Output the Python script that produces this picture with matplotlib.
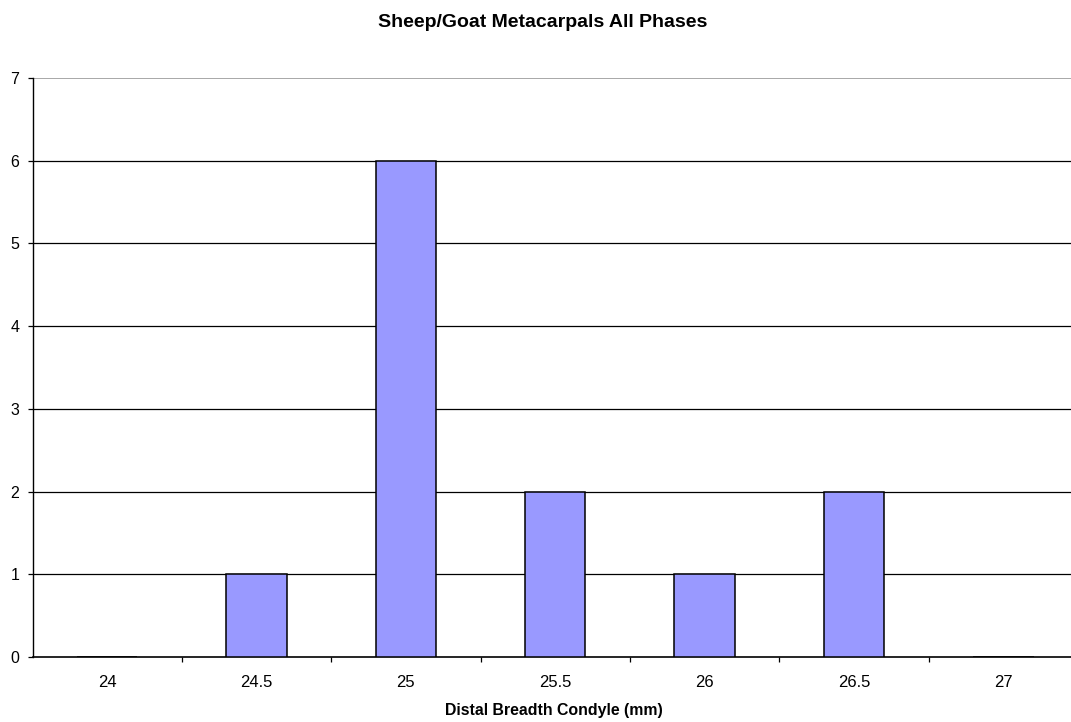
import matplotlib
matplotlib.use("Agg")
import matplotlib.pyplot as plt
import numpy as np

plt.rcParams['font.family'] = ['Liberation Sans', 'DejaVu Sans']

categories = ["24", "24.5", "25", "25.5", "26", "26.5", "27"]
counts = [0, 1, 6, 2, 1, 2, 0]
y_ticks = [0, 1, 2, 3, 4, 5, 6, 7]

W, H = 1071, 722
fig = plt.figure(figsize=(W / 100, H / 100), dpi=100)
# plot area runs slightly past the right edge of the canvas
left_px, right_px, top_px, bottom_px = 32.5, 1078, 78, 657
ax = fig.add_axes([left_px / W, 1 - bottom_px / H,
                   (right_px - left_px) / W, (bottom_px - top_px) / H])

x = np.arange(len(categories))
ax.bar(x, counts, width=0.405, color="#9999FF", edgecolor="black", linewidth=1.1, zorder=3)

ax.set_xlim(-0.5, len(categories) - 0.5)
ax.set_ylim(0, 7)
ax.set_yticks(y_ticks)
ax.set_yticklabels([str(v) for v in y_ticks], fontsize=11.5)

for v in y_ticks[1:-1]:
    ax.axhline(v, color="black", linewidth=0.9, zorder=1)
ax.axhline(7, color="#999999", linewidth=1.2, zorder=1)

ax.set_xticks(x)
ax.set_xticklabels(categories, fontsize=12)
ax.tick_params(axis="x", length=0, pad=13)
ax.set_xticks(np.arange(0.5, len(categories) - 0.5), minor=True)
ax.tick_params(axis="x", which="minor", length=3.6, direction="out", width=0.9)
ax.tick_params(axis="y", length=3.6, direction="out", width=0.9, pad=5.8)

for s in ["top", "right"]:
    ax.spines[s].set_visible(False)
ax.spines["left"].set_linewidth(1.0)
ax.spines["bottom"].set_linewidth(1.2)

fig.text(554 / W, 1 - 714.5 / H, "Distal Breadth Condyle (mm)",
         ha="center", va="baseline", fontsize=11.4, fontweight="bold")
fig.text(543 / W, 1 - 27 / H, "Sheep/Goat Metacarpals All Phases",
         ha="center", va="baseline", fontsize=14, fontweight="bold")

fig.savefig("out.png", dpi=100)
